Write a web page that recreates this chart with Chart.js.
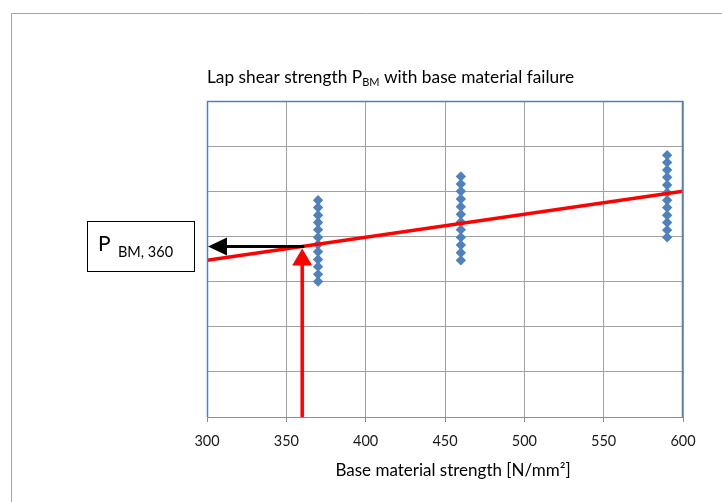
<!DOCTYPE html>
<html><head><meta charset="utf-8">
<script src="https://cdn.jsdelivr.net/npm/chart.js"></script>
<style>html,body{margin:0;padding:0;background:#fff}#wrap{width:722px;height:502px}</style>
</head><body><div id="wrap"><canvas id="c" width="722" height="502"></canvas></div>
<script>
// ---- data ----
const strengthCategories = [370, 460, 590];
const values370 = [4.80, 4.64, 4.47, 4.31, 4.15, 3.98, 3.82, 3.66, 3.49, 3.33, 3.16, 3.00];
const values460 = [5.33, 5.16, 5.00, 4.83, 4.66, 4.49, 4.32, 4.15, 3.98, 3.81, 3.64, 3.47];
const values590 = [5.80, 5.64, 5.47, 5.31, 5.14, 4.97, 4.80, 4.64, 4.47, 4.31, 4.14, 3.98];
const fitX = [300, 600];
const fitY = [3.47, 5.00];
const targetStrength = [360];
const xTickLabels = ['300', '350', '400', '450', '500', '550', '600'];

const FONT = 'Lato, "Open Sans", sans-serif';
const blue = '#4F81BD';

function fitAt(x){ return fitY[0] + (x - fitX[0]) * (fitY[1]-fitY[0]) / (fitX[1]-fitX[0]); }
const tY = fitAt(targetStrength[0]);

const scatterPts = [];
strengthCategories.forEach((c, i) => {
  const arr = [values370, values460, values590][i];
  arr.forEach(v => scatterPts.push({x: c, y: v}));
});

const decor = {
  id: 'decor',
  beforeDraw(chart){
    const ctx = chart.ctx;
    ctx.save();
    ctx.fillStyle = '#fff';
    ctx.fillRect(0,0,chart.width,chart.height);
    ctx.strokeStyle = '#A6A6A6';
    ctx.lineWidth = 1;
    ctx.beginPath();
    ctx.moveTo(11.5, 503); ctx.lineTo(11.5, 13.5); ctx.lineTo(723, 13.5);
    ctx.stroke();
    ctx.restore();
  },
  afterDraw(chart){
    const ctx = chart.ctx, a = chart.chartArea;
    const xs = chart.scales.x, ys = chart.scales.y;
    ctx.save();
    // plot border blue (top, left, right)
    ctx.strokeStyle = blue; ctx.lineWidth = 1.5;
    ctx.beginPath();
    ctx.moveTo(a.left+0.5, a.bottom); ctx.lineTo(a.left+0.5, a.top+0.5);
    ctx.lineTo(a.right-0.5, a.top+0.5); ctx.lineTo(a.right-0.5, a.bottom);
    ctx.stroke();
    // x axis line gray
    ctx.strokeStyle = '#8C8C8C'; ctx.lineWidth = 1;
    ctx.beginPath(); ctx.moveTo(a.left, a.bottom+0.5); ctx.lineTo(a.right, a.bottom+0.5); ctx.stroke();

    const px = xs.getPixelForValue(targetStrength[0]);
    const py = ys.getPixelForValue(tY);
    // black arrow to the left
    ctx.strokeStyle = '#000'; ctx.fillStyle = '#000'; ctx.lineWidth = 3;
    ctx.beginPath(); ctx.moveTo(px+2, py); ctx.lineTo(a.left+16, py); ctx.stroke();
    ctx.beginPath(); ctx.moveTo(a.left+1, py); ctx.lineTo(a.left+20, py-9); ctx.lineTo(a.left+20, py+9); ctx.closePath(); ctx.fill();
    // red arrow up
    ctx.strokeStyle = '#FF0000'; ctx.fillStyle = '#FF0000'; ctx.lineWidth = 3.5;
    ctx.beginPath(); ctx.moveTo(px, a.bottom); ctx.lineTo(px, py+16); ctx.stroke();
    ctx.beginPath(); ctx.moveTo(px, py+2); ctx.lineTo(px+10, py+19); ctx.lineTo(px-10, py+19); ctx.closePath(); ctx.fill();

    // label box
    ctx.strokeStyle = '#000'; ctx.lineWidth = 1;
    ctx.strokeRect(87.5, 221.5, 107, 50);
    ctx.fillStyle = '#000'; ctx.textBaseline = 'alphabetic'; ctx.textAlign = 'left';
    ctx.font = '21px ' + FONT;
    ctx.fillText('P', 98, 251);
    ctx.font = '14.5px ' + FONT;
    ctx.fillText('BM, 360', 118, 257);

    // title with subscript
    const big = '17.3px ' + FONT, small = '11px ' + FONT;
    let x = 207; const by = 83;
    const t1 = 'Lap shear strength P';
    ctx.font = big;
    ctx.fillText(t1, x, by); x += ctx.measureText(t1).width;
    ctx.font = small;
    ctx.fillText('BM', x, by+3); x += ctx.measureText('BM').width;
    ctx.font = big;
    ctx.fillText(' with base material failure', x, by);

    // x axis title (slightly right of plot centre as in the source)
    ctx.font = '17px ' + FONT; ctx.textAlign = 'center';
    ctx.fillText('Base material strength [N/mm²]', (a.left + a.right)/2 + 8, 476);
    ctx.restore();
  }
};

new Chart(document.getElementById('c'), {
  data: {
    datasets: [
      { type: 'line', data: fitX.map((x,i)=>({x, y: fitY[i]})), borderColor: '#FF0000', borderWidth: 3.5,
        pointRadius: 0, fill: false, order: 1 },
      { type: 'scatter', data: scatterPts, pointStyle: 'rectRot', pointRadius: 5.2, pointHoverRadius: 5.2,
        backgroundColor: blue, borderColor: blue, borderWidth: 0, order: 2 }
    ]
  },
  options: {
    responsive: false, animation: false, events: [],
    layout: { padding: { left: 207, right: 39, top: 101, bottom: 20 } },
    plugins: { legend: { display: false }, tooltip: { enabled: false }, title: { display: false } },
    scales: {
      x: { type: 'linear', min: 300, max: 600,
        afterBuildTicks: s => { s.ticks = xTickLabels.map(v => ({value: Number(v)})); },
        afterFit: s => { s.height = 65; },
        grid: { color: '#A0A0A0', lineWidth: 1, tickLength: 5, drawTicks: true, tickColor: '#8C8C8C' },
        border: { display: false },
        ticks: { color: '#1a1a1a', font: { family: FONT, size: 14.5 }, padding: 11, maxRotation: 0,
                 callback: (v) => xTickLabels.includes(String(v)) ? String(v) : '' },
        title: { display: false }
      },
      y: { type: 'linear', min: 0, max: 7, afterFit: s => { s.width = 0; },
        ticks: { display: false, stepSize: 1 },
        grid: { color: '#A0A0A0', lineWidth: 1, drawTicks: false },
        border: { display: false }
      }
    }
  },
  plugins: [decor]
});
</script>
</body></html>
